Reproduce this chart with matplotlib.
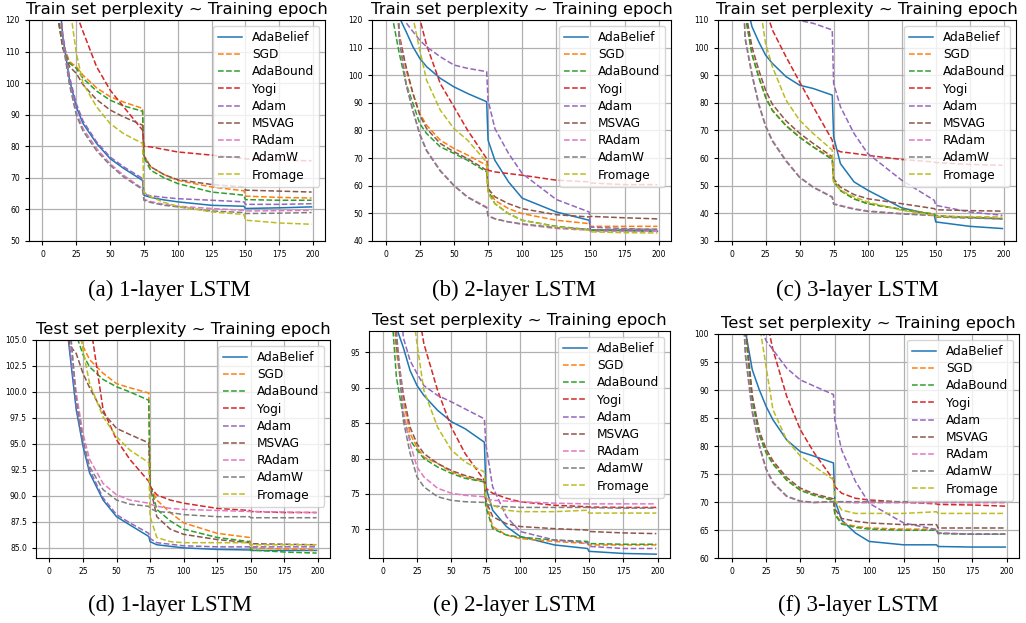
import matplotlib
matplotlib.use("Agg")
import matplotlib.pyplot as plt

epochs = [0, 5, 10, 15, 20, 25, 30, 40, 50, 60, 74, 75, 80, 90, 100, 125, 149, 150, 175, 199]

optimizers = ["AdaBelief", "SGD", "AdaBound", "Yogi", "Adam", "MSVAG", "RAdam", "AdamW", "Fromage"]
colors = ["tab:blue", "tab:orange", "tab:green", "tab:red", "tab:purple",
          "tab:brown", "tab:pink", "tab:gray", "tab:olive"]

# (a) 1-layer LSTM, train perplexity
train_1layer = {
    "AdaBelief": [400, 220, 140, 114.7, 101, 92.5, 87.2, 80.9, 76.1, 73, 69.2, 64.5, 63.8, 63, 62.4, 61.3, 61, 60.3, 60.5, 60.8],
    "SGD":       [400, 200, 125, 112.6, 106.8, 105.2, 102.5, 98.5, 95.7, 94, 92, 77, 73.5, 71, 69.2, 67.1, 65.9, 64.2, 63.8, 63.6],
    "AdaBound":  [400, 200, 124, 111.5, 106.3, 104.7, 101.5, 97.5, 94.6, 92.8, 91.1, 76.5, 72.4, 70, 68.2, 65.5, 64.5, 63.1, 62.9, 62.9],
    "Yogi":      [600, 400, 250, 180, 150, 122, 116.3, 105.2, 97.8, 92.5, 85.1, 80, 79.8, 79, 78.2, 77.2, 76.1, 76, 75.6, 75.4],
    "Adam":      [400, 220, 142, 115.5, 102, 93.5, 88, 81.4, 76.6, 73.5, 69.8, 64.8, 64.3, 63.8, 63.4, 62.9, 62.4, 61.6, 61.6, 61.8],
    "MSVAG":     [400, 200, 125, 111, 105.2, 103.1, 99.5, 94.8, 91.5, 89.3, 86.7, 77, 73.5, 71, 69.4, 67.9, 67.1, 66.1, 65.8, 65.5],
    "RAdam":     [400, 220, 140, 113.7, 99.9, 90.9, 85.6, 79.3, 74.5, 70.8, 66.6, 63.2, 62.5, 61.6, 61, 60.3, 59.7, 59.5, 59.6, 59.7],
    "AdamW":     [400, 220, 138, 113, 99.4, 89.9, 84.8, 78.6, 74, 70.3, 66.3, 62.9, 62.2, 61.3, 60.8, 59.5, 59, 58.7, 58.8, 59],
    "Fromage":   [600, 300, 200, 150, 125, 109.5, 99.9, 92.5, 87.2, 84, 80.9, 65.5, 64, 62.2, 61, 59.2, 58.4, 56.6, 55.7, 55.3],
}

# (b) 2-layer LSTM, train perplexity
train_2layer = {
    "AdaBelief": [400, 200, 121, 115.8, 110.3, 106.1, 103.1, 98.9, 95.8, 93.4, 90.4, 76.5, 69.2, 61.4, 55.5, 50.5, 47.5, 44, 43.9, 43.5],
    "SGD":       [400, 180, 115.2, 101.9, 93.4, 86.2, 81.9, 76.5, 73.5, 71.1, 67.4, 59, 54.7, 51.7, 49.9, 47.5, 46.3, 45.3, 45.3, 45.3],
    "AdaBound":  [300, 121, 107.9, 97, 89.8, 82.5, 78.9, 74.1, 71.7, 69.2, 65, 58.4, 53.5, 49.9, 47.5, 45.3, 44.1, 43.9, 43.7, 43.5],
    "Yogi":      [600, 400, 250, 180, 150, 120.5, 110.9, 97, 88.6, 80.1, 69.8, 65.6, 65, 64.4, 63.8, 62, 61.4, 61, 60.4, 60.4],
    "Adam":      [600, 300, 160, 119, 115.8, 112.7, 110.3, 106.7, 103.7, 102.5, 101.3, 91, 80.7, 71.7, 64.4, 55, 50.5, 45, 44.5, 44.1],
    "MSVAG":     [400, 160, 114, 103.1, 93.4, 85.6, 80.7, 75.3, 72.3, 69.8, 65.6, 59, 56, 53.5, 51.7, 49.5, 48.7, 48.9, 48.4, 48],
    "RAdam":     [400, 160, 114, 97, 87.4, 78.9, 72.9, 65.6, 60.2, 56, 52.3, 49.3, 48.1, 46.9, 46, 44.5, 43.9, 43.5, 43.5, 43.5],
    "AdamW":     [400, 160, 113, 96.5, 87, 78.5, 72.6, 65.3, 60, 55.8, 52, 49, 48, 46.9, 46.2, 44.8, 44.3, 44, 44.2, 44.3],
    "Fromage":   [600, 300, 180, 140, 121, 109.1, 98.2, 87.4, 80.7, 76.5, 68.5, 57.2, 53.5, 49.9, 47.5, 45.1, 43.9, 43.3, 43, 42.9],
}

# (c) 3-layer LSTM, train perplexity
train_3layer = {
    "AdaBelief": [400, 200, 118, 107.6, 102.1, 97.3, 94.3, 89.5, 86.4, 85.2, 82.8, 67.7, 58, 51.4, 48.4, 42, 39.3, 36.9, 35.3, 34.5],
    "SGD":       [400, 180, 112, 97.9, 89.5, 82.2, 77.4, 71.9, 67.7, 64.1, 59.9, 52, 48.4, 45.3, 43.5, 41.5, 39.8, 39.2, 38.6, 38.1],
    "AdaBound":  [400, 180, 112, 97.5, 89.2, 82, 77.2, 71.7, 67.5, 64, 59.5, 51.6, 48.2, 45.2, 43.5, 41.4, 39.6, 39, 38.5, 38],
    "Yogi":      [600, 400, 250, 180, 150, 114, 106.4, 96.7, 87.6, 78.6, 66.5, 63.5, 62.3, 61.7, 61, 59.5, 58.6, 58.4, 57.7, 57.4],
    "Adam":      [600, 400, 250, 160, 130, 120, 116, 112, 109.8, 108.8, 106.4, 87, 78.6, 68.9, 61.7, 52, 44.7, 42.9, 40.5, 39.3],
    "MSVAG":     [400, 180, 114, 100.3, 91.9, 84.6, 79.5, 73.5, 69, 65.3, 60.5, 52.5, 49.5, 46.8, 45.3, 43.5, 41.7, 41.3, 41, 40.8],
    "RAdam":     [400, 160, 104, 90.7, 79.8, 71.9, 66.5, 59.2, 53.2, 49.6, 46, 43.5, 42.9, 41.7, 40.9, 39.9, 39.3, 38.7, 38.4, 38.1],
    "AdamW":     [400, 160, 103, 90, 79.3, 71.5, 66.1, 58.9, 53, 49.4, 45.8, 43.3, 42.7, 41.5, 40.7, 39.8, 39.2, 38.7, 38.3, 38],
    "Fromage":   [600, 300, 180, 140, 118, 101.5, 93.1, 81, 73.7, 68.9, 62.9, 51.4, 48.4, 46, 44.1, 41.1, 39.3, 38.9, 38.8, 38.7],
}

# (d) 1-layer LSTM, test perplexity
test_1layer = {
    "AdaBelief": [300, 160, 110, 104, 98.3, 94.8, 92.2, 89.6, 88, 87.2, 86.1, 85.6, 85.3, 85.15, 85, 84.85, 84.8, 84.75, 84.75, 84.75],
    "SGD":       [300, 180, 130, 115, 106.5, 104.4, 103.1, 101.8, 100.8, 100.4, 99.9, 90.9, 89.6, 88.4, 87.4, 86.4, 86, 85, 84.9, 84.8],
    "AdaBound":  [300, 180, 125, 110, 105.5, 103.6, 102.4, 101.2, 100.5, 100, 99.2, 91.2, 88.7, 87.6, 86.8, 86, 85.6, 84.8, 84.6, 84.5],
    "Yogi":      [400, 300, 200, 150, 125, 115, 107, 98.3, 95.4, 93.5, 91.4, 90.9, 90.1, 89.6, 89.3, 88.8, 88.6, 88.5, 88.4, 88.4],
    "Adam":      [300, 160, 112, 104.5, 98.6, 95.1, 92.5, 89.8, 88.2, 87.4, 86.4, 85.9, 85.5, 85.35, 85.2, 85.1, 85.1, 85.1, 85.1, 85.1],
    "MSVAG":     [300, 160, 110, 104.5, 103.7, 101.8, 100.4, 98, 96.5, 95.9, 95.1, 90.9, 88, 86.8, 86.3, 85.8, 85.5, 85.4, 85.35, 85.3],
    "RAdam":     [300, 160, 120, 106, 99.9, 96, 93.5, 91.2, 90.1, 89.6, 89.3, 89.2, 89, 88.8, 88.7, 88.6, 88.5, 88.5, 88.45, 88.4],
    "AdamW":     [300, 160, 120, 107, 99.2, 95.4, 92.8, 90.6, 89.6, 89.2, 89, 88.8, 88.5, 88.4, 88.2, 88, 88, 87.9, 87.9, 87.9],
    "Fromage":   [400, 250, 160, 125, 110, 104, 100.8, 97.6, 95.7, 94.4, 93.2, 88, 86, 85.6, 85.5, 85.5, 85.5, 85.3, 85.3, 85.3],
}

# (e) 2-layer LSTM, test perplexity
test_2layer = {
    "AdaBelief": [300, 150, 98.5, 95.7, 92.4, 90.3, 88.9, 86.8, 85.2, 84.2, 82.3, 76, 72.7, 70.4, 69, 67.8, 67.3, 66.9, 66.6, 66.5],
    "SGD":       [300, 110, 95.2, 88.2, 83.5, 81.6, 80.2, 79.3, 78.1, 77.4, 76.7, 74.1, 70.4, 69.2, 68.7, 68.3, 68, 67.8, 67.8, 67.8],
    "AdaBound":  [300, 105, 91.5, 85.9, 82.6, 81.2, 80, 78.8, 77.9, 77.2, 76.7, 73.2, 70.1, 69.2, 68.9, 68.5, 68.3, 68, 67.9, 67.9],
    "Yogi":      [400, 300, 200, 150, 120, 102, 96.2, 89.6, 84.4, 80.7, 76.9, 75.8, 75.1, 74.4, 73.9, 73.4, 73.2, 73.15, 73.1, 73.1],
    "Adam":      [300, 160, 115, 97.1, 93.8, 92, 90.3, 88.9, 88, 87, 85.6, 82.1, 76, 71.8, 69.7, 68.5, 68.1, 67.6, 67.3, 67.3],
    "MSVAG":     [300, 125, 96.2, 89.1, 84.4, 82.1, 80.7, 79.3, 78.3, 77.6, 76.9, 74.1, 71.8, 70.8, 70.4, 70.1, 69.9, 69.7, 69.5, 69.4],
    "RAdam":     [300, 140, 98, 86.8, 82.1, 78.8, 77.4, 75.8, 75.1, 74.8, 74.6, 74.4, 74.1, 74, 73.9, 73.7, 73.6, 73.6, 73.6, 73.6],
    "AdamW":     [300, 140, 98, 85.4, 80.7, 77.4, 76, 74.6, 74.1, 73.9, 73.8, 73.6, 73.3, 73.2, 73.1, 73.1, 73.1, 73.05, 73, 73],
    "Fromage":   [400, 300, 200, 140, 104, 96.2, 89.6, 84.4, 81.2, 79.5, 78.1, 74.6, 73.4, 72.7, 72.5, 72.5, 72.7, 72.3, 72.3, 72.3],
}

# (f) 3-layer LSTM, test perplexity
test_3layer = {
    "AdaBelief": [300, 150, 100.5, 93.6, 90.1, 87.1, 84.7, 81.1, 79, 78.2, 77, 70.4, 66.8, 64.5, 63, 62.4, 62.4, 62.1, 62, 62],
    "SGD":       [300, 150, 100.5, 88.3, 82.3, 79, 77, 74, 72.2, 71.3, 70.4, 68, 66.3, 65.7, 65.4, 65.2, 65.2, 64.5, 64.3, 64.3],
    "AdaBound":  [300, 150, 100.5, 88, 82, 78.8, 76.8, 73.9, 72.1, 71.2, 70.3, 67.8, 66.1, 65.5, 65.2, 65, 65, 64.4, 64.3, 64.3],
    "Yogi":      [400, 300, 200, 150, 120, 103, 97.2, 88.9, 82.9, 78.8, 74, 72.8, 71.6, 70.7, 70.4, 70, 69.7, 69.6, 69.5, 69.3],
    "Adam":      [400, 300, 200, 150, 102, 98.8, 97.2, 93.9, 91.8, 90.7, 89.2, 84.7, 79.3, 73.7, 69.8, 66.3, 65.1, 64.5, 64.3, 64.3],
    "MSVAG":     [300, 150, 102, 89, 82.8, 79.5, 77.4, 74.4, 72.5, 71.5, 70.6, 68.8, 67.1, 66.6, 66.3, 66, 66, 65.4, 65.4, 65.4],
    "RAdam":     [300, 120, 96, 85.9, 80, 75.8, 73.4, 71, 70.1, 69.9, 70.1, 70.1, 70, 69.9, 69.9, 69.9, 69.9, 69.9, 69.9, 69.9],
    "AdamW":     [300, 120, 96.5, 86.3, 80.3, 76, 73.6, 71.1, 70.2, 70, 70.1, 70.1, 70.1, 70.1, 70.1, 70.1, 70.1, 70.1, 70.1, 70.1],
    "Fromage":   [400, 300, 200, 130, 102, 94.2, 86.5, 81.1, 78.2, 76.4, 74, 70.4, 68.6, 68, 68, 68, 68.3, 68, 68, 68],
}

panels = [
    # data, title, caption, axes rect, ylim, yticks
    (train_1layer, "Train set perplexity ~ Training epoch", "(a) 1-layer LSTM",
     [0.0283, 0.6132, 0.2885, 0.3547], (50, 120), list(range(50, 121, 10))),
    (train_2layer, "Train set perplexity ~ Training epoch", "(b) 2-layer LSTM",
     [0.3626, 0.6132, 0.2914, 0.3547], (40, 120), list(range(40, 121, 10))),
    (train_3layer, "Train set perplexity ~ Training epoch", "(c) 3-layer LSTM",
     [0.6998, 0.6132, 0.2904, 0.3547], (30, 110), list(range(30, 111, 10))),
    (test_1layer, "Test set perplexity ~ Training epoch", "(d) 1-layer LSTM",
     [0.0351, 0.1039, 0.2865, 0.3504], (84, 105), [85 + 2.5 * i for i in range(9)]),
    (test_2layer, "Test set perplexity ~ Training epoch", "(e) 2-layer LSTM",
     [0.3596, 0.1048, 0.2934, 0.3639], (66, 98), list(range(70, 96, 5))),
    (test_3layer, "Test set perplexity ~ Training epoch", "(f) 3-layer LSTM",
     [0.6998, 0.1039, 0.2934, 0.3600], (60, 100), list(range(60, 101, 5))),
]
caption_x = [0.165, 0.501, 0.836, 0.166, 0.501, 0.836]
caption_y = [1 - 290 / 623, 1 - 290 / 623, 1 - 290 / 623, 1 - 605 / 623, 1 - 605 / 623, 1 - 605 / 623]

fig = plt.figure(figsize=(10.26, 6.23), dpi=100)

for i, (data, title, caption, rect, ylim, yticks) in enumerate(panels):
    ax = fig.add_axes(rect)
    for name, color in zip(optimizers, colors):
        ls = "-" if name == "AdaBelief" else "--"
        ax.plot(epochs, data[name], ls, color=color, lw=1.1, label=name)
    ax.set_xlim(-9.95, 208.95)
    ax.set_ylim(*ylim)
    ax.set_xticks(range(0, 201, 25))
    ax.set_yticks(yticks)
    if i == 3:
        ax.set_yticklabels([f"{t:.1f}" for t in yticks])
    ax.tick_params(labelsize=5.5, length=3, width=0.8)
    ax.grid(True, color="#b0b0b0", lw=0.9)
    ax.set_title(title, fontsize=11.8, pad=4)
    ax.legend(loc="upper right", fontsize=8.7, framealpha=0.8, labelspacing=0.35)
    fig.text(caption_x[i], caption_y[i], caption, ha="center", va="center",
             family="Liberation Serif", fontsize=16.5)

fig.savefig("out.png", dpi=100)
